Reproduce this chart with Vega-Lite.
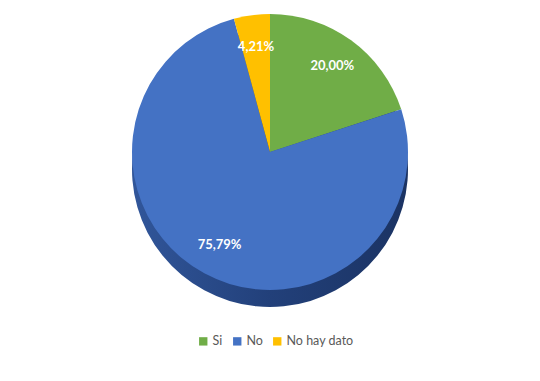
{
  "$schema": "https://vega.github.io/schema/vega-lite/v6.json",
  "autosize": {"type": "fit", "contains": "padding"},
  "width": 540,
  "height": 381,
  "padding": {"top": 4, "bottom": 81, "left": 5, "right": 5},
  "background": "white",
  "data": {
    "values": [
      {"cat": "Si", "value": 20.00, "ord": 1, "label": "20,00%"},
      {"cat": "No", "value": 75.79, "ord": 2, "label": "75,79%"},
      {"cat": "No hay dato", "value": 4.21, "ord": 3, "label": "4,21%"}
    ]
  },
  "encoding": {
    "theta": {"field": "value", "type": "quantitative", "stack": true},
    "order": {"field": "ord", "type": "quantitative"}
  },
  "layer": [
    {
      "mark": {
        "type": "arc",
        "outerRadius": 138,
        "yOffset": 17,
        "color": {"gradient": "linear", "x1": 0, "x2": 1, "y1": 0, "y2": 0,
          "stops": [{"offset": 0, "color": "#31569a"}, {"offset": 0.5, "color": "#22407a"}, {"offset": 1, "color": "#1b3363"}]}
      },
      "encoding": {}
    },
    {
      "mark": {"type": "arc", "outerRadius": 138},
      "encoding": {
        "color": {
          "field": "cat", "type": "nominal",
          "scale": {"domain": ["Si", "No", "No hay dato"], "range": ["#70ad47", "#4472c4", "#ffc000"]},
          "legend": {
            "title": null, "orient": "none", "legendX": 192, "legendY": 331, "direction": "horizontal",
            "symbolType": "square", "symbolSize": 70, "symbolStrokeWidth": 0,
            "labelFont": "Lato", "labelFontSize": 12.5, "labelColor": "#595959",
            "columnPadding": 8, "labelOffset": 3
          }
        }
      }
    },
    {
      "mark": {"type": "text", "radius": 106, "font": "Lato", "fontSize": 13, "fontWeight": "bold", "fill": "white"},
      "encoding": {"text": {"field": "label", "type": "nominal"}}
    }
  ],
  "config": {"view": {"stroke": null}}
}
